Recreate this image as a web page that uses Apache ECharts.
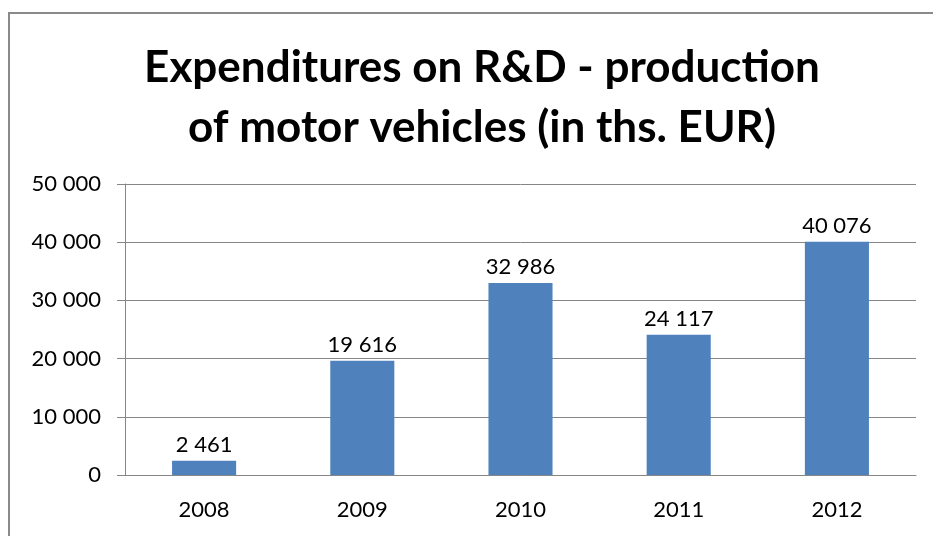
<!DOCTYPE html>
<html>
<head>
<meta charset="utf-8">
<script src="https://cdn.jsdelivr.net/npm/echarts@6/dist/echarts.min.js"></script>
<style>
  html, body { margin: 0; padding: 0; background: #fff; }
  #chart { width: 933px; height: 536px; }
</style>
</head>
<body>
<div id="chart"></div>
<script>
// data
var years = ['2008', '2009', '2010', '2011', '2012'];
var spending = [2461, 19616, 32986, 24117, 40076];
var yTicks = [0, 10000, 20000, 30000, 40000, 50000];

function spaced(v) {
    return String(v).replace(/\B(?=(\d{3})+(?!\d))/g, ' ');
}

var font = 'Lato, "Open Sans", sans-serif';
var myChart = echarts.init(document.getElementById('chart'));
myChart.setOption({
    animation: false,
    title: {
        text: 'Expenditures on R&D - production\nof motor vehicles (in ths. EUR)',
        left: 477,
        top: 33,
        textAlign: 'center',
        textStyle: {
            fontFamily: font,
            fontWeight: 'bold',
            fontSize: 44,
            lineHeight: 60,
            color: '#000'
        }
    },
    graphic: [{
        type: 'rect',
        shape: { x: 9, y: 13, width: 1000, height: 600 },
        style: { fill: 'none', stroke: '#8a8a8a', lineWidth: 2 },
        silent: true
    }],
    grid: { left: 125, right: 17, top: 184, bottom: 61 },
    xAxis: {
        type: 'category',
        data: years,
        axisLine: { lineStyle: { color: '#868686' } },
        axisTick: { length: 7, lineStyle: { color: '#868686' } },
        axisLabel: { color: '#000', fontFamily: font, fontSize: 22, margin: 24 }
    },
    yAxis: {
        type: 'value',
        min: yTicks[0],
        max: yTicks[yTicks.length - 1],
        interval: 10000,
        axisLine: { show: true, lineStyle: { color: '#868686' } },
        axisTick: { show: true, length: 8, lineStyle: { color: '#868686' } },
        splitLine: { lineStyle: { color: '#868686' } },
        axisLabel: {
            color: '#000', fontFamily: font, fontSize: 22, margin: 24,
            formatter: spaced
        }
    },
    series: [{
        type: 'bar',
        data: spending,
        barWidth: '40.5%',
        itemStyle: { color: '#4f81bd' },
        label: {
            show: true,
            position: 'top',
            distance: 5,
            color: '#000',
            fontFamily: font,
            fontSize: 22,
            formatter: function (p) { return spaced(p.value); }
        }
    }]
});
</script>
</body>
</html>
